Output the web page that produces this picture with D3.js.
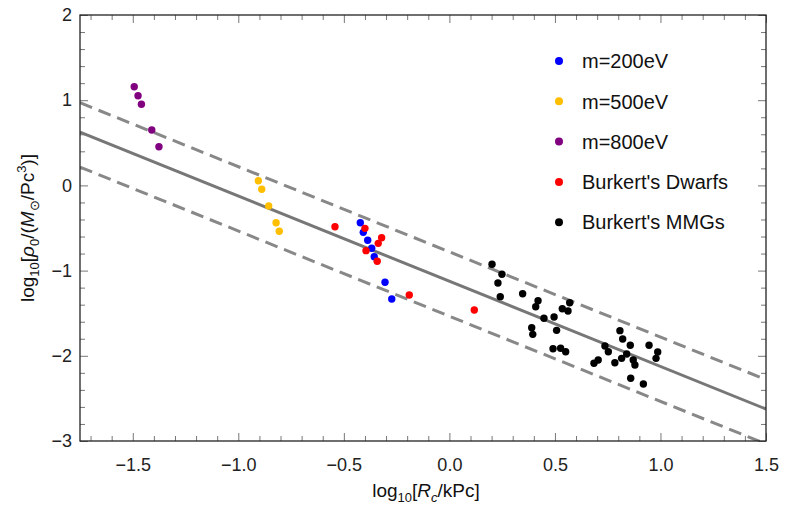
<!DOCTYPE html>
<html>
<head>
<meta charset="utf-8">
<script src="https://cdn.jsdelivr.net/npm/d3@7"></script>
<style>
  html, body { margin: 0; padding: 0; background: #fff; }
  svg { display: block; font-family: "Liberation Sans", Arial, sans-serif; }
</style>
</head>
<body>
<svg id="chart" width="785" height="507"></svg>
<script>
// log10 core radius [kPc] vs log10 central density [M_sun/Pc^3]
const m200X = [-0.422, -0.408, -0.387, -0.368, -0.356, -0.305, -0.273];
const m200Y = [-0.438, -0.551, -0.644, -0.738, -0.837, -1.137, -1.333];

const m500X = [-0.905, -0.889, -0.856, -0.821, -0.806];
const m500Y = [0.055, -0.046, -0.242, -0.438, -0.539];

const m800X = [-1.493, -1.475, -1.459, -1.410, -1.376];
const m800Y = [1.158, 1.053, 0.952, 0.650, 0.454];

const dwarfX = [-0.542, -0.400, -0.337, -0.321, -0.395, -0.342, -0.190, 0.118];
const dwarfY = [-0.485, -0.504, -0.680, -0.614, -0.766, -0.891, -1.286, -1.462];

const mmgX = [0.202, 0.249, 0.230, 0.241, 0.347, 0.420, 0.409, 0.448, 0.496, 0.390,
              0.395, 0.508, 0.570, 0.535, 0.562, 0.491, 0.527, 0.551, 0.808, 0.821,
              0.857, 0.946, 0.987, 0.979, 0.737, 0.753, 0.840, 0.784, 0.816, 0.871,
              0.879, 0.685, 0.705, 0.859, 0.919];
const mmgY = [-0.926, -1.043, -1.146, -1.306, -1.271, -1.353, -1.424, -1.560, -1.545, -1.670,
              -1.748, -1.701, -1.377, -1.447, -1.474, -1.917, -1.912, -1.952, -1.705, -1.803,
              -1.877, -1.877, -1.955, -2.030, -1.885, -1.952, -1.979, -2.081, -2.030, -2.049,
              -2.108, -2.088, -2.049, -2.264, -2.331];

// Scaling relation log rho0 = a + b log Rc, with upper / lower band
const fitSlope = -1.0;
const fitIntercept = -1.125;
const bandIntercepts = [-0.78, -1.535];

const seriesNames = ["m=200eV", "m=500eV", "m=800eV", "Burkert's Dwarfs", "Burkert's MMGs"];
const seriesColors = ["#0000ff", "#ffbf00", "#800080", "#ff0000", "#000000"];

const xMajorTicks = [-1.5, -1.0, -0.5, 0.0, 0.5, 1.0, 1.5];
const yMajorTicks = [-3, -2, -1, 0, 1, 2];

const series = [
  { xs: m200X, ys: m200Y },
  { xs: m500X, ys: m500Y },
  { xs: m800X, ys: m800Y },
  { xs: dwarfX, ys: dwarfY },
  { xs: mmgX, ys: mmgY }
];

const svg = d3.select("#chart");
const L = 80, R = 766, T = 15, B = 441;

const x = d3.scaleLinear().domain([-1.75, 1.5]).range([L, R]);
const y = d3.scaleLinear().domain([-3, 2]).range([B, T]);

const xMinor = d3.range(-17, 16).map(d => d / 10).filter(v => !xMajorTicks.some(m => Math.abs(m - v) < 1e-9));
const yMinor = d3.range(-15, 11).map(d => d / 5).filter(v => !yMajorTicks.some(m => Math.abs(m - v) < 1e-9));

const tickColor = "#777";
const fmtX = d3.format(".1f");

function styleAxis(g) {
  g.select(".domain").remove();
  g.selectAll(".tick line").attr("stroke", tickColor).attr("stroke-width", 1);
  g.selectAll(".tick text").attr("fill", "#222").style("font-size", "18px")
    .style("font-family", "'Liberation Sans', Arial, sans-serif");
}

// bottom
svg.append("g").attr("transform", `translate(0,${B})`)
  .call(d3.axisBottom(x).tickValues(xMajorTicks).tickFormat(fmtX).tickSizeInner(-8).tickSizeOuter(0).tickPadding(17))
  .call(styleAxis);
svg.append("g").attr("transform", `translate(0,${B})`)
  .call(d3.axisBottom(x).tickValues(xMinor).tickFormat("").tickSizeInner(-5).tickSizeOuter(0))
  .call(styleAxis);
// top
svg.append("g").attr("transform", `translate(0,${T})`)
  .call(d3.axisTop(x).tickValues(xMajorTicks).tickFormat("").tickSizeInner(-8).tickSizeOuter(0))
  .call(styleAxis);
svg.append("g").attr("transform", `translate(0,${T})`)
  .call(d3.axisTop(x).tickValues(xMinor).tickFormat("").tickSizeInner(-5).tickSizeOuter(0))
  .call(styleAxis);
// left
svg.append("g").attr("transform", `translate(${L},0)`)
  .call(d3.axisLeft(y).tickValues(yMajorTicks).tickFormat(d3.format("d")).tickSizeInner(-8).tickSizeOuter(0).tickPadding(8))
  .call(styleAxis);
svg.append("g").attr("transform", `translate(${L},0)`)
  .call(d3.axisLeft(y).tickValues(yMinor).tickFormat("").tickSizeInner(-5).tickSizeOuter(0))
  .call(styleAxis);
// right
svg.append("g").attr("transform", `translate(${R},0)`)
  .call(d3.axisRight(y).tickValues(yMajorTicks).tickFormat("").tickSizeInner(-8).tickSizeOuter(0))
  .call(styleAxis);
svg.append("g").attr("transform", `translate(${R},0)`)
  .call(d3.axisRight(y).tickValues(yMinor).tickFormat("").tickSizeInner(-5).tickSizeOuter(0))
  .call(styleAxis);

// clip for the relation lines
svg.append("defs").append("clipPath").attr("id", "plotClip")
  .append("rect").attr("x", L).attr("y", T).attr("width", R - L).attr("height", B - T);

const lineGen = d3.line().x(d => x(d[0])).y(d => y(d[1]));
const xEnds = x.domain();
const relation = a => xEnds.map(v => [v, a + fitSlope * v]);

const lines = svg.append("g").attr("clip-path", "url(#plotClip)");
bandIntercepts.forEach(a => {
  lines.append("path").attr("d", lineGen(relation(a)))
    .attr("fill", "none").attr("stroke", "#888").attr("stroke-width", 3)
    .attr("stroke-dasharray", "13,7");
});
lines.append("path").attr("d", lineGen(relation(fitIntercept)))
  .attr("fill", "none").attr("stroke", "#777").attr("stroke-width", 3);

// points
series.forEach((s, i) => {
  svg.append("g").selectAll("circle")
    .data(s.xs.map((v, j) => [v, s.ys[j]]))
    .join("circle")
    .attr("cx", d => x(d[0]))
    .attr("cy", d => y(d[1]))
    .attr("r", 3.7)
    .attr("fill", seriesColors[i]);
});

// frame
svg.append("rect").attr("x", L).attr("y", T).attr("width", R - L).attr("height", B - T)
  .attr("fill", "none").attr("stroke", "#222").attr("stroke-width", 1.3);

// legend
const legend = svg.append("g");
seriesNames.forEach((name, i) => {
  const cy = 61 + i * 40.3;
  legend.append("circle").attr("cx", 559).attr("cy", cy).attr("r", 4).attr("fill", seriesColors[i]);
  legend.append("text").attr("x", 582).attr("y", cy).attr("dy", "0.36em")
    .attr("fill", "#111").style("font-size", "20px").text(name);
});

// axis titles
const xt = svg.append("text").attr("x", 426).attr("y", 497).attr("text-anchor", "middle")
  .attr("fill", "#111").style("font-size", "19px");
xt.append("tspan").text("log");
xt.append("tspan").attr("dy", 5).style("font-size", "13px").text("10");
xt.append("tspan").attr("dy", -5).text("[");
xt.append("tspan").style("font-style", "italic").text("R");
xt.append("tspan").attr("dy", 5).style("font-size", "13px").style("font-style", "italic").text("c");
xt.append("tspan").attr("dy", -5).text("/kPc]");

const yt = svg.append("text").attr("transform", "translate(34,228) rotate(-90)")
  .attr("text-anchor", "middle").attr("fill", "#111").style("font-size", "19px");
yt.append("tspan").text("log");
yt.append("tspan").attr("dy", 5).style("font-size", "13px").text("10");
yt.append("tspan").attr("dy", -5).text("[");
yt.append("tspan").style("font-style", "italic").text("ρ");
yt.append("tspan").attr("dy", 5).style("font-size", "13px").text("0");
yt.append("tspan").attr("dy", -5).text("/(");
yt.append("tspan").style("font-style", "italic").text("M");
yt.append("tspan").attr("dy", 5).style("font-size", "13px").text("⊙");
yt.append("tspan").attr("dy", -5).text("/Pc");
yt.append("tspan").attr("dy", -8).style("font-size", "13px").text("3");
yt.append("tspan").attr("dy", 8).text(")]");
</script>
</body>
</html>
